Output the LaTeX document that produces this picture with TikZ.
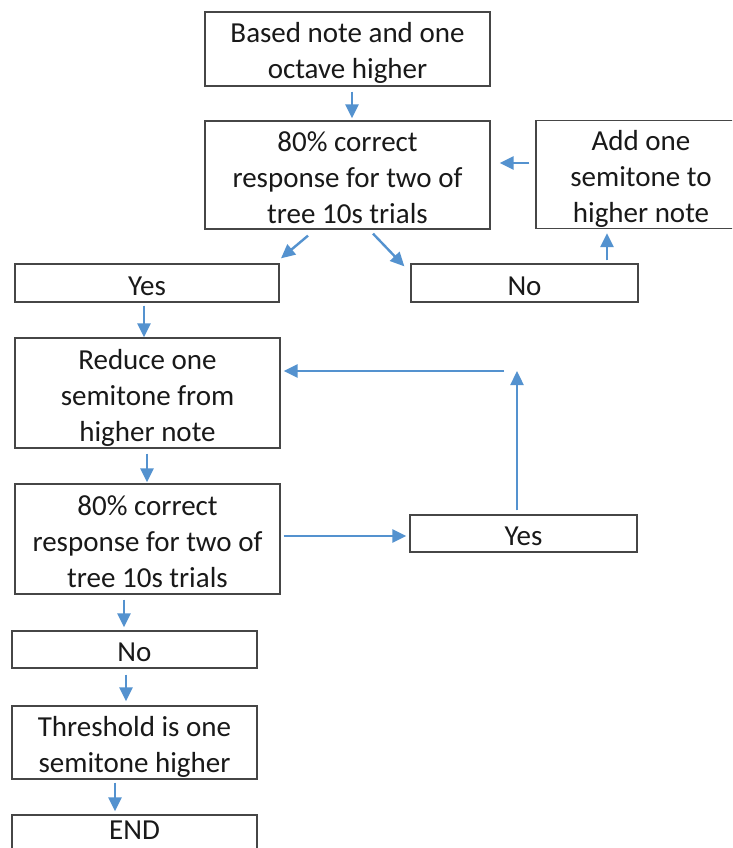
\documentclass[tikz,border=0pt]{standalone}
\usepackage{fontspec}
\setmainfont{Carlito}
\usetikzlibrary{arrows.meta,calc}
\definecolor{arrblue}{RGB}{84,146,207}
\definecolor{boxline}{RGB}{70,70,70}
\definecolor{txt}{RGB}{25,25,25}
\newcommand{\ls}{\rule[-6pt]{0pt}{36pt}}
\begin{document}
\begin{tikzpicture}[x=1pt,y=-1pt,
  box/.style={draw=boxline,line width=1.3pt,fill=white,inner sep=0pt,align=center,
    text=txt,font=\fontsize{29}{36}\selectfont},
  conn/.style={draw=arrblue,line width=2.4pt,-{Triangle[length=14pt,width=13pt]}}]
\clip (0,0) rectangle (732,848);
\useasboundingbox (0,0) rectangle (732,848);
\fill[white] (0,0) rectangle (732,848);

\node[box,minimum width=285pt,minimum height=74pt] (b1) at (347.5,49) {\ls Based note and one\\\ls octave higher};
\node[box,minimum width=285pt,minimum height=108pt] (b2) at (347.5,175) {\ls 80\% correct\\\ls response for two of\\\ls tree 10s trials};
\node[box,minimum width=210pt,minimum height=107pt] (add) at (641,174.5) {\ls Add one\\\ls semitone to\\\ls higher note};
\node[box,minimum width=264pt,minimum height=38pt] (yes1) at (147,283) {\ls Yes};
\node[box,minimum width=227pt,minimum height=38pt] (no1) at (524.5,283) {\ls No};
\node[box,minimum width=265pt,minimum height=110pt] (red) at (147.5,393) {\ls Reduce one\\\ls semitone from\\\ls higher note};
\node[box,minimum width=265pt,minimum height=110pt] (c2) at (147.5,539) {\ls 80\% correct\\\ls response for two of\\\ls tree 10s trials};
\node[box,minimum width=227pt,minimum height=37pt] (yes2) at (523.5,533.5) {\ls Yes};
\node[box,minimum width=245pt,minimum height=37pt] (no2) at (134.5,649.5) {\ls No};
\node[box,minimum width=245pt,minimum height=73pt] (thr) at (134.5,742.5) {\ls Threshold is one\\\ls semitone higher};
\node[box,minimum width=245pt,minimum height=36pt] (end) at (134.5,833) {\rule[-7pt]{0pt}{26pt}END};

\coordinate (up) at (517,371);
\coordinate (turn) at (504,371);

\draw[conn] ($(b1.south)+(4.5,5)$) -- ($(b2.north)+(4.5,-2)$);
\draw[conn] ($(add.west)+(-6,-11.5)$) -- ($(b2.east)+(9,-12)$);
\draw[conn] ($(b2.south)+(-39.5,6)$) -- ($(yes1.north)+(134,-5)$);
\draw[conn] ($(b2.south)+(25.5,4)$) -- ($(no1.north west)+(-6,3)$);
\draw[conn] ($(no1.north)+(82.5,-3)$) -- ($(add.south)+(-34,4)$);
\draw[conn] ($(yes1.south)+(-3,3)$) -- ($(red.north)+(-3.5,0)$);
\draw[conn] ($(red.south)+(-0.5,5)$) -- ($(c2.north)+(-0.5,-1)$);
\draw[conn] ($(c2.east)+(3,-3)$) -- ($(yes2.west)+(-3,2.5)$);
\draw[conn] ($(yes2.north)+(-6.5,-4)$) -- (up);
\draw[conn] (turn) -- ($(red.east)+(3,-22)$);
\draw[conn] ($(c2.south)+(-23.5,5)$) -- ($(no2.north)+(-10.5,-3)$);
\draw[conn] ($(no2.south)+(-8.5,6)$) -- ($(thr.north)+(-8.5,-4)$);
\draw[conn] ($(thr.south)+(-19.5,3)$) -- ($(end.north)+(-19.5,-3)$);
\end{tikzpicture}
\end{document}
